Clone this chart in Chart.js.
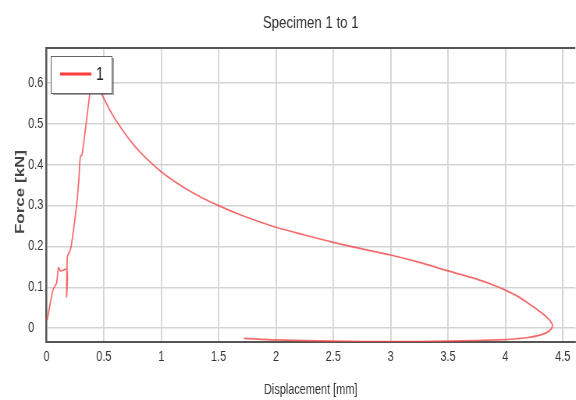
<!DOCTYPE html>
<html>
<head>
<meta charset="utf-8">
<script src="https://cdn.jsdelivr.net/npm/chart.js@4.4.1/dist/chart.umd.min.js"></script>
<style>
  html, body { margin: 0; padding: 0; background: #fff; overflow: hidden; }
  /* the original export is squeezed sideways, so draw wide and squeeze */
  #wrap { width: 738px; height: 400px; position: relative; transform: scaleX(0.7805); transform-origin: 0 0; }
</style>
</head>
<body>
<div id="wrap"><canvas id="forceChart"></canvas></div>
<script>
// Specimen 1 - force vs displacement
const displacement = [
  0.006, 0.058, 0.087, 0.105, 0.122, 0.178, 0.175, 0.182, 0.2, 0.215,
  0.262, 0.282, 0.295, 0.31, 0.378, 0.4, 0.425, 0.452, 0.477, 0.53,
  0.587, 0.65, 0.733, 0.82, 0.907, 1.0, 1.1, 1.2, 1.3, 1.4,
  1.5, 1.65, 1.8, 2.0, 2.25, 2.5, 2.75, 3.0, 3.25, 3.5,
  3.75, 3.9, 4.0, 4.1, 4.19, 4.28, 4.34, 4.39, 4.41, 4.4,
  4.36, 4.3, 4.2, 4.1, 4.0, 3.5, 3.0, 2.5, 2.0, 1.72
];
const force = [
  0.02, 0.095, 0.11, 0.148, 0.14, 0.143, 0.077, 0.175, 0.186, 0.2,
  0.3, 0.365, 0.42, 0.425, 0.575, 0.61, 0.625, 0.6, 0.576, 0.546,
  0.517, 0.49, 0.458, 0.43, 0.406, 0.383, 0.362, 0.344, 0.328, 0.313,
  0.3, 0.282, 0.266, 0.247, 0.228, 0.21, 0.194, 0.179, 0.161, 0.14,
  0.12, 0.105, 0.093, 0.079, 0.063, 0.045, 0.032, 0.018, 0.008, -0.002,
  -0.011, -0.017, -0.023, -0.026, -0.028, -0.032, -0.033, -0.032, -0.029, -0.025
];
const xTicks = [0, 0.5, 1, 1.5, 2, 2.5, 3, 3.5, 4, 4.5];
const yTicks = [0, 0.1, 0.2, 0.3, 0.4, 0.5, 0.6];
const seriesLabel = '1';

const fontFamily = "'Liberation Sans', Arial, sans-serif";
const textColor = '#333';
const gridColor = '#d4d4d4';
const axisColor = '#555';

const points = displacement.map((x, i) => ({ x, y: force[i] }));

// top frame line, rotated y title and the boxed legend inside the plot
const decorations = {
  id: 'decorations',
  afterDraw(chart) {
    const { ctx, chartArea } = chart;
    ctx.save();

    ctx.strokeStyle = axisColor;
    ctx.lineWidth = 2;
    ctx.beginPath();
    ctx.moveTo(chartArea.left, chartArea.top);
    ctx.lineTo(chartArea.right, chartArea.top);
    ctx.stroke();

    ctx.translate(26, (chartArea.top + chartArea.bottom) / 2 - 3);
    ctx.rotate(-Math.PI / 2);
    ctx.fillStyle = '#444';
    ctx.font = 'bold 17px ' + fontFamily;
    ctx.textAlign = 'center';
    ctx.textBaseline = 'middle';
    ctx.fillText('Force [kN]', 0, 0);
    ctx.restore();

    // legend
    ctx.save();
    const bx = chartArea.left + 6, by = chartArea.top + 8, bw = 78, bh = 37;
    ctx.fillStyle = 'rgba(0,0,0,0.35)';
    ctx.fillRect(bx + 3, by + 2, bw, bh);
    ctx.fillStyle = '#fff';
    ctx.fillRect(bx, by, bw, bh);
    ctx.strokeStyle = '#666';
    ctx.lineWidth = 1;
    ctx.strokeRect(bx + 0.5, by + 0.5, bw, bh);
    ctx.strokeStyle = '#ff3b3b';
    ctx.lineWidth = 3;
    ctx.beginPath();
    ctx.moveTo(bx + 12, by + 18);
    ctx.lineTo(bx + 52, by + 18);
    ctx.stroke();
    ctx.fillStyle = '#222';
    ctx.font = '18px ' + fontFamily;
    ctx.textBaseline = 'middle';
    ctx.fillText(seriesLabel, bx + 58, by + 19);
    ctx.restore();
  }
};

new Chart(document.getElementById('forceChart'), {
  type: 'scatter',
  data: {
    datasets: [{
      label: seriesLabel,
      data: points,
      showLine: true,
      borderColor: 'rgba(242, 70, 70, 0.8)',
      borderWidth: 1.7,
      pointRadius: 0,
      tension: 0.3
    }]
  },
  options: {
    responsive: true,
    maintainAspectRatio: false,
    animation: false,
    events: [],
    layout: { padding: { left: 36, right: 0, top: 0, bottom: 0 } },
    plugins: {
      legend: { display: false },
      tooltip: { enabled: false },
      title: {
        display: true,
        text: 'Specimen 1 to 1',
        fullSize: false,
        color: textColor,
        font: { family: fontFamily, size: 17, weight: 'normal' },
        padding: { top: 13, bottom: 14.6 }
      }
    },
    scales: {
      x: {
        type: 'linear',
        min: -0.004,
        max: 4.61,
        afterBuildTicks: scale => { scale.ticks = xTicks.map(v => ({ value: v })); },
        afterFit: scale => { scale.height = 58; },
        grid: { color: gridColor, lineWidth: 1.8, drawTicks: false },
        border: { color: axisColor, width: 2 },
        ticks: {
          color: textColor,
          font: { family: fontFamily, size: 14 },
          padding: 6.6,
          maxRotation: 0,
          callback: v => String(v)
        },
        title: {
          display: true,
          text: 'Displacement [mm]',
          color: textColor,
          font: { family: fontFamily, size: 14 },
          padding: { top: 0, bottom: 1.6 }
        }
      },
      y: {
        type: 'linear',
        min: -0.034,
        max: 0.686,
        afterBuildTicks: scale => { scale.ticks = yTicks.map(v => ({ value: v })); },
        afterFit: scale => { scale.width = 23; },
        grid: { color: gridColor, lineWidth: 1.5, drawTicks: false },
        border: { color: axisColor, width: 2.4 },
        ticks: {
          color: textColor,
          crossAlign: 'far',
          font: { family: fontFamily, size: 14 },
          padding: 4,
          callback: v => String(v)
        }
      }
    }
  },
  plugins: [decorations]
});
</script>
</body>
</html>
